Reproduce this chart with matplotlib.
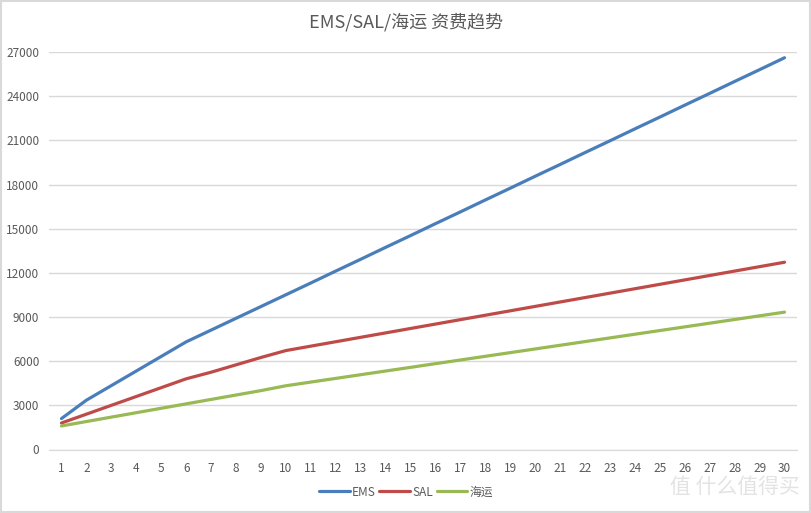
"""
EMS / SAL / 海运 rate trend, line chart
"""

import matplotlib
matplotlib.use('Agg')
import matplotlib.pyplot as plt
from matplotlib.patches import Rectangle

plt.rcParams['font.family'] = ['Noto Sans CJK SC', 'DejaVu Sans']

# Data
weights = list(range(1, 31))
ems = [2100, 3350, 4340, 5330, 6320, 7310, 8110, 8910, 9710, 10510,
       11310, 12120, 12920, 13730, 14530, 15340, 16140, 16950, 17750, 18560,
       19360, 20170, 20970, 21780, 22580, 23390, 24190, 25000, 25800, 26610]
sal = [1800, 2400, 3000, 3600, 4200, 4800, 5250, 5750, 6250, 6720,
       7020, 7320, 7620, 7920, 8220, 8520, 8820, 9120, 9420, 9720,
       10020, 10320, 10620, 10920, 11220, 11520, 11820, 12120, 12420, 12720]
sea = [1600, 1900, 2200, 2500, 2800, 3100, 3400, 3700, 4000, 4330,
       4580, 4830, 5080, 5330, 5580, 5830, 6080, 6330, 6580, 6830,
       7080, 7330, 7580, 7830, 8080, 8330, 8580, 8830, 9080, 9330]
y_ticks = list(range(0, 27001, 3000))

text_color = '#595959'
grid_color = '#D9D9D9'

fig = plt.figure(figsize=(8.12, 5.13), dpi=100)
ax = fig.add_axes([49 / 812, 63.5 / 513, 748 / 812, 397.5 / 513])

# Plot the three series
ax.plot(weights, ems, color='#4A7EBB', linewidth=2.3, label='EMS', solid_capstyle='round')
ax.plot(weights, sal, color='#BE4B48', linewidth=2.3, label='SAL', solid_capstyle='round')
ax.plot(weights, sea, color='#98B954', linewidth=2.3, label='海运', solid_capstyle='round')

# Axes formatting
ax.set_xlim(0.5, 30.5)
ax.set_ylim(0, 27000)
ax.set_xticks(weights)
ax.set_yticks(y_ticks)
ax.tick_params(axis='both', length=0, labelsize=8.5, colors=text_color)
ax.tick_params(axis='x', pad=9)
ax.tick_params(axis='y', pad=7)
for side in ['top', 'right', 'left']:
    ax.spines[side].set_visible(False)
ax.spines['bottom'].set_color(grid_color)
ax.yaxis.grid(True, color=grid_color, linewidth=1)
ax.set_axisbelow(True)

# Title
fig.text(0.5, 1 - 22 / 513, 'EMS/SAL/海运 资费趋势', ha='center', va='center',
         fontsize=13, color=text_color)

# Legend at bottom
fig.legend(loc='center', bbox_to_anchor=(0.5, 1 - 492 / 513), ncol=3, frameon=False,
           fontsize=8.5, labelcolor=text_color, handlelength=2.6, handletextpad=0.2,
           columnspacing=0.3)

# Watermark
fig.text(0.985, 1 - 487 / 513, '值 什么值得买', ha='right', va='center',
         fontsize=15, color='#E3E3E3')

# Chart border
fig.patches.append(Rectangle((0.001, 0.001), 0.997, 0.997, transform=fig.transFigure,
                             fill=False, edgecolor=grid_color, linewidth=1.5))

plt.savefig('out.png', dpi=100)
